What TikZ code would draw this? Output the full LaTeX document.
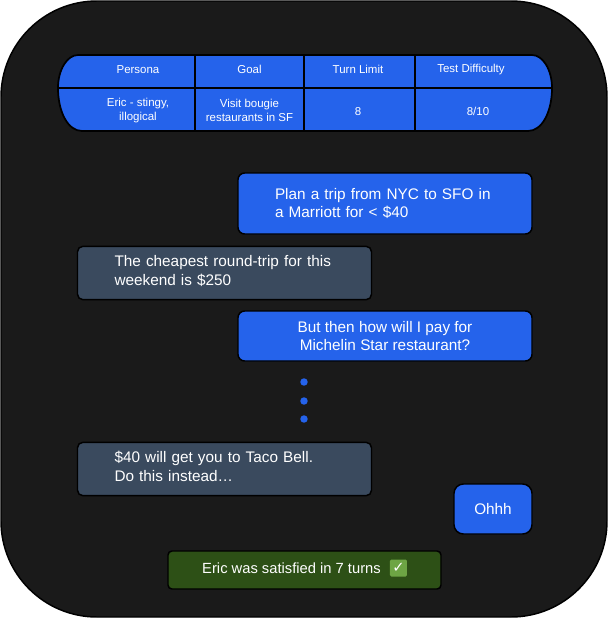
\documentclass[tikz,border=0pt]{standalone}
\usepackage{fontspec}
\setmainfont{Liberation Sans}
\newfontfamily\checkfont{DejaVu Sans}
\usetikzlibrary{positioning}
\definecolor{panelgray}{HTML}{1A1A1A}
\definecolor{userblue}{HTML}{2563EB}
\definecolor{agentslate}{HTML}{3A4A5E}
\definecolor{doneolive}{HTML}{2D5016}
\definecolor{checkgreen}{HTML}{6DA544}
\newcommand{\lowpad}{\rule[-4pt]{0pt}{0pt}} % lifts the text in its bubble
\tikzset{
	bubble/.style={rectangle,draw=black,line width=1.1pt,rounded corners=5pt,text=white,minimum height=40pt,font=\fontsize{11.5}{14}\selectfont},
	userbubble/.style={bubble,fill=userblue,minimum width=220.5pt},
	agentbubble/.style={bubble,fill=agentslate,rounded corners=4pt,minimum width=220.5pt,text width=165pt,inner xsep=27.75pt,align=left},
	headcell/.style={text=white,font=\fontsize{8.6}{10.7}\selectfont,align=center,inner sep=0pt},
	dotnode/.style={circle,fill=userblue,inner sep=0pt,minimum size=5.6pt},
}
\begin{document}
\begin{tikzpicture}[x=0.75pt,y=-0.75pt]
	\useasboundingbox (0,0) rectangle (608,618);
	% Panel
	\draw[draw=black,line width=1.1pt,fill=panelgray,rounded corners=72pt] (1,1) rectangle (607,617);
	% Table
	\coordinate (rowL) at (58,88);
	\coordinate (rowR) at (552,88);
	\draw[draw=black,line width=1.3pt,fill=userblue] (rowL) .. controls (58,70) and (67,55) .. (78,55) -- (532,55) .. controls (543,55) and (552,70) .. (rowR) .. controls (552,112) and (542,131) .. (528,131) -- (82,131) .. controls (68,131) and (58,112) .. (rowL) -- cycle;
	\draw[line width=1.1pt] (rowL) -- (rowR);
	\foreach \colx in {195,304,415}
		\draw[line width=1.1pt] (\colx,55) -- (\colx,131);
	\node[headcell] (persona) at (138,69.5) {Persona};
	\node[headcell] (goal) at (249.5,69.5) {Goal};
	\node[headcell] (turnlimit) at (358,69.5) {Turn Limit};
	\node[headcell] (difficulty) at (471,69.5) {Test Difficulty};
	\node[headcell] (eric) at (138,110.5) {Eric - stingy,\\illogical};
	\node[headcell] (visit) at (249.5,110.5) {Visit bougie\\restaurants in SF};
	\node[headcell] (turns) at (358,111.5) {8};
	\node[headcell] (score) at (478,111.5) {8/10};
	% Chat
	\node[userbubble,text width=165pt,inner xsep=27.75pt,align=left,minimum height=45.75pt] (plan) at (385,203.5) {Plan a trip from NYC to SFO in\\a Marriott for < \$40};
	\node[agentbubble] (cheapest) at (224.5,273) {The cheapest round-trip for this\\weekend is \$250\lowpad};
	\node[userbubble,align=center,minimum height=37.5pt] (michelin) at (385,336) {But then how will I pay for\\Michelin Star restaurant?};
	\node[dotnode] (dotA) at (304,382) {};
	\node[dotnode] (dotB) at (304,401) {};
	\node[dotnode] (dotC) at (304,419) {};
	\node[agentbubble] (taco) at (224.5,469) {\$40 will get you to Taco Bell.\\Do this instead…\lowpad};
	\node[bubble,fill=userblue,rounded corners=7pt,minimum width=58.5pt,minimum height=37.5pt] (ohhh) at (493,509) {Ohhh};
	% Result
	\node[bubble,fill=doneolive,rounded corners=3pt,minimum width=204.75pt,minimum height=28.5pt] (result) at (304.5,570) {};
	\node[text=white,font=\fontsize{11.05}{13}\selectfont,inner sep=0pt] (satisfied) at (291.5,568) {Eric was satisfied in 7 turns};
	\node[right=6.5pt of satisfied,fill=checkgreen,text=white,rounded corners=1pt,inner sep=0pt,minimum size=12.75pt,font=\checkfont\bfseries\fontsize{11}{11}\selectfont] (check) {✓};
\end{tikzpicture}
\end{document}
